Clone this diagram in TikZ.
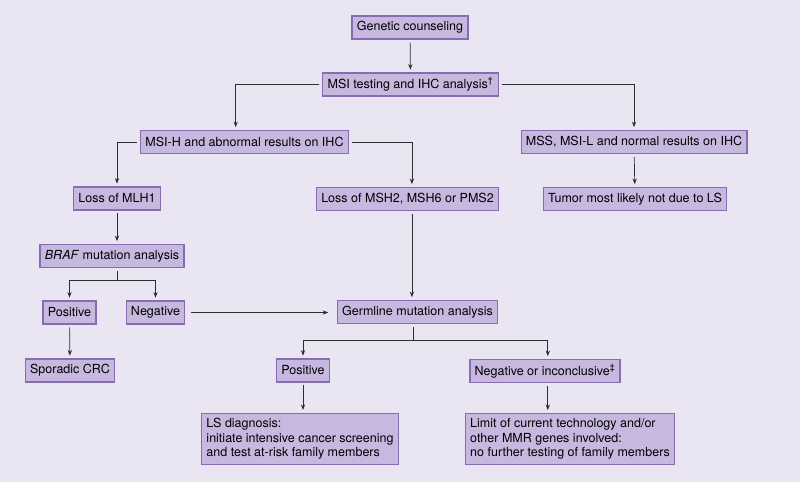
\documentclass[tikz,border=0pt]{standalone}
\usepackage{fontspec}
\setmainfont{TeX Gyre Heros}
\usetikzlibrary{arrows.meta}

\definecolor{bgpurple}{RGB}{233,229,242}
\definecolor{boxfill}{RGB}{199,184,223}
\definecolor{boxline}{RGB}{136,108,176}
\definecolor{linegray}{RGB}{45,45,45}

\begin{document}
\begin{tikzpicture}[x=0.025cm, y=-0.025cm,
    box/.style={draw=boxline, fill=boxfill, line width=0.9pt, inner xsep=3.4pt,
      inner ysep=0pt, minimum height=0.57cm, font=\fontsize{8.9}{10.4}\selectfont},
    wide box/.style={box, align=left, inner ysep=3.5pt},
    link/.style={draw=linegray, line width=0.5pt, shorten <=2pt},
    arr/.style={link, -{Stealth[length=4pt,width=3pt]}, shorten >=2pt}]

        \fill[bgpurple] (0, 0) rectangle (800, 482);

        \node[box] (gc) at (410, 27.5) {Genetic counseling};
        \node[box] (msi) at (410.5, 84.5) {MSI testing and IHC analysis\textsuperscript{\dag}};
        \node[box] (msih) at (244.5, 142) {MSI-H and abnormal results on IHC};
        \node[box] (mss) at (634, 142) {MSS, MSI-L and normal results on IHC};
        \node[box] (mlh) at (117, 198.5) {Loss of MLH1};
        \node[box] (msh) at (407.5, 199) {Loss of MSH2, MSH6 or PMS2};
        \node[box] (tumor) at (635, 199) {Tumor most likely not due to LS};
        \node[box] (braf) at (112, 256) {\textit{BRAF} mutation analysis};
        \node[box] (pos1) at (69.5, 312.5) {Positive};
        \node[box] (neg1) at (155.5, 312.5) {Negative};
        \node[box] (crc) at (70, 370.5) {Sporadic CRC};
        \node[box] (germ) at (417.5, 312) {Germline mutation analysis};
        \node[box] (pos2) at (303, 370.5) {Positive};
        \node[box] (negi) at (545, 371) {Negative or inconclusive\textsuperscript{\ddag}};
        \node[wide box] (lsd) at (300, 439) {LS diagnosis:\\initiate intensive cancer screening\\and test at-risk family members};
        \node[wide box] (limit) at (570, 439) {Limit of current technology and/or\\other MMR genes involved:\\no further testing of family members};

        \draw[arr] (gc) -- (msi);
        \draw[arr] (msi.west) -| ([xshift=-0.22cm]msih.north);
        \draw[arr] (msi.east) -| (mss.north);
        \draw[arr] (msih.west) -| (mlh.north);
        \draw[arr] (msih.east) -| ([xshift=0.11cm]msh.north);
        \draw[arr] (mss) -- (tumor);
        \draw[arr] (mlh) -- (mlh |- braf.north);
        \draw[link] (mlh |- braf.south) -- ++(0, 12) coordinate (bsplit);
        \draw[arr, shorten <=0pt] (bsplit) -| (pos1.north);
        \draw[arr, shorten <=0pt] (bsplit) -| (neg1.north);
        \draw[arr] (pos1) -- (crc);
        \draw[arr, shorten <=4pt, shorten >=6pt] (neg1.east) -- (neg1.east -| germ.west);
        \draw[arr] ([xshift=0.11cm]msh.south) -- ([xshift=0.11cm]msh.south |- germ.north);
        \draw[link] (germ.south) ++(-4, 0) -- ++(0, 16) coordinate (gsplit);
        \draw[arr, shorten <=0pt] (gsplit) -| (pos2.north);
        \draw[arr, shorten <=0pt] (gsplit) -| ([xshift=0.07cm]negi.north);
        \draw[arr] (pos2) -- (pos2 |- lsd.north);
        \draw[arr] ([xshift=0.07cm]negi.south) -- ([xshift=0.07cm]negi.south |- limit.north);

      \end{tikzpicture}
\end{document}
